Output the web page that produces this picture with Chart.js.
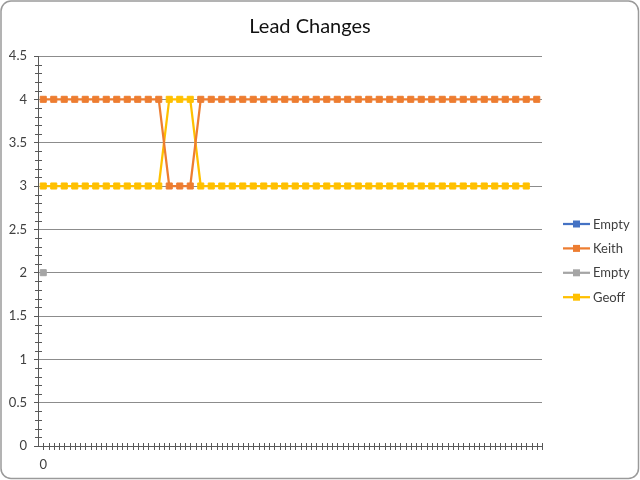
<!DOCTYPE html>
<html><head><meta charset="utf-8">
<script src="https://cdn.jsdelivr.net/npm/chart.js@4"></script>
<style>html,body{margin:0;padding:0;background:#fff}canvas{display:block}</style>
</head><body>
<canvas id="c" width="640" height="480"></canvas>
<script>
const categories = ["0","","","","","","","","","", "","","","","","","","","","", "","","","","","","","","","", "","","","","","","","","","", "","","","","","","",""];
const emptyBlue = [];
const keith = [4,4,4,4,4,4,4,4,4,4, 4,4,3,3,3,4,4,4,4,4, 4,4,4,4,4,4,4,4,4,4, 4,4,4,4,4,4,4,4,4,4, 4,4,4,4,4,4,4,4];
const emptyGray = [2];
const geoff = [3,3,3,3,3,3,3,3,3,3, 3,3,4,4,4,3,3,3,3,3, 3,3,3,3,3,3,3,3,3,3, 3,3,3,3,3,3,3,3,3,3, 3,3,3,3,3,3,3];
const seriesNames = ["Empty","Keith","Empty","Geoff"];
const seriesColors = ["#4472C4","#ED7D31","#A5A5A5","#FFC000"];
const yMin = 0, yMax = 4.5, yStep = 0.5, yMinorStep = 0.1;
const title = "Lead Changes";

const FONT = "Lato, 'Liberation Sans', sans-serif";

const frame = {
  id: 'frame',
  beforeDraw(chart) {
    const c = chart.ctx;
    c.save();
    c.fillStyle = '#fff';
    c.fillRect(0, 0, chart.width, chart.height);
    c.strokeStyle = '#9a9a9a';
    c.lineWidth = 1.5;
    c.beginPath();
    c.roundRect(1, 1, chart.width - 2.5, chart.height - 2.5, 10);
    c.stroke();
    c.restore();
  }
};

const rightSpacer = {
  id: 'rightSpacer',
  beforeInit(chart) {
    const box = {
      position: 'right', weight: 10, fullSize: false,
      options: { position: 'right', weight: 10, fullSize: false },
      isHorizontal() { return false; },
      getPadding() { return { left: 0, top: 0, right: 0, bottom: 0 }; },
      update(maxWidth, maxHeight) { this.width = 78; this.height = maxHeight; },
      draw() {}
    };
    Chart.layouts.addBox(chart, box);
  }
};

const minorTicks = {
  id: 'minorTicks',
  afterDatasetsDraw(chart) {
    const { ctx, scales: { x, y }, chartArea: a } = chart;
    ctx.save();
    ctx.strokeStyle = '#595959';
    ctx.lineWidth = 1;
    ctx.beginPath();
    const nMinor = Math.round((yMax - yMin) / yMinorStep);
    const per = Math.round(yStep / yMinorStep);
    for (let k = 0; k <= nMinor; k++) {
      if (k % per === 0) continue;
      const py = Math.round(y.getPixelForValue(yMin + k * yMinorStep)) + 0.5;
      ctx.moveTo(a.left - 3, py); ctx.lineTo(a.left + 4, py);
    }
    const n = categories.length;
    const w = x.getPixelForValue(1) - x.getPixelForValue(0);
    for (let k = 1; k <= 2 * n; k++) {
      const px = Math.round(x.getPixelForValue(0) - w / 2 + k * w / 2) + 0.5;
      ctx.moveTo(px, a.bottom - 3); ctx.lineTo(px, a.bottom + 4);
    }
    ctx.stroke();
    ctx.restore();
  }
};

const sideLegend = {
  id: 'sideLegend',
  afterDraw(chart) {
    const ctx = chart.ctx;
    const a = chart.chartArea;
    const x0 = a.right + 21, step = 24.4, y0 = 224;
    ctx.save();
    chart.data.datasets.forEach((ds, i) => {
      const yy = y0 + i * step;
      ctx.strokeStyle = ds.borderColor;
      ctx.lineWidth = 2.25;
      ctx.beginPath();
      ctx.moveTo(x0, yy); ctx.lineTo(x0 + 27, yy);
      ctx.stroke();
      ctx.fillStyle = ds.borderColor;
      ctx.fillRect(x0 + 13.5 - 3.5, yy - 3.5, 7, 7);
      ctx.fillStyle = '#404040';
      ctx.font = '13px ' + FONT;
      ctx.textBaseline = 'middle';
      ctx.textAlign = 'left';
      ctx.fillText(ds.label, x0 + 30, yy + 0.5);
    });
    ctx.restore();
  }
};

const seriesData = [emptyBlue, keith, emptyGray, geoff];
const datasets = seriesData.map((d, i) => ({
  label: seriesNames[i],
  data: d,
  borderColor: seriesColors[i],
  backgroundColor: seriesColors[i],
  pointBackgroundColor: seriesColors[i],
  pointBorderColor: seriesColors[i],
  borderWidth: 2.25,
  pointStyle: 'rect',
  pointRadius: 4.3,
  pointBorderWidth: 1,
  tension: 0,
  fill: false
}));

new Chart(document.getElementById('c'), {
  type: 'line',
  data: { labels: categories, datasets },
  options: {
    responsive: false,
    animation: false,
    devicePixelRatio: 1,
    layout: { padding: { left: 0, right: 20, top: 0, bottom: 0 } },
    plugins: {
      legend: { display: false },
      tooltip: { enabled: false },
      title: {
        display: true,
        text: title,
        color: '#111',
        font: { family: FONT, size: 20, weight: 'normal' },
        padding: { top: 15, bottom: 17 }
      }
    },
    scales: {
      x: {
        type: 'category',
        offset: true,
        grid: { display: false },
        border: { display: true, color: '#595959', width: 1 },
        ticks: {
          autoSkip: false, maxRotation: 0, minRotation: 0,
          padding: 3, color: '#404040',
          font: { family: FONT, size: 13 }
        },
        afterFit(s) { s.height = 34; }
      },
      y: {
        min: yMin, max: yMax,
        grid: { color: '#8c8c8c', lineWidth: 1, drawTicks: true, tickLength: 4, tickColor: '#595959' },
        border: { display: true, color: '#595959', width: 1 },
        ticks: {
          stepSize: yStep, padding: 7, color: '#404040',
          font: { family: FONT, size: 13 },
          callback: v => String(v)
        },
        afterFit(s) { s.width = 38; }
      }
    }
  },
  plugins: [frame, rightSpacer, minorTicks, sideLegend]
});
</script>
</body></html>
